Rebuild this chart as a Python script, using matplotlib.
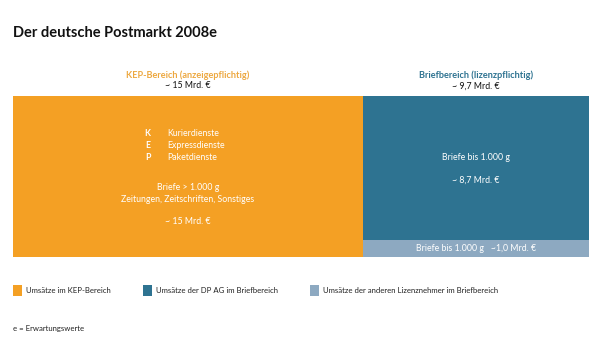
import matplotlib
matplotlib.use("Agg")
import matplotlib.pyplot as plt

plt.rcParams['font.family'] = ['Lato', 'DejaVu Sans']

# Umsätze in Mrd. Euro (2008e)
kep_umsatz = 15.0
brief_dpag = 8.7
brief_andere = 1.0
brief_gesamt = 9.7

c_kep = "#F4A024"
c_dpag = "#2E7391"
c_andere = "#8DA9C1"

W, H = 600, 363
fig = plt.figure(figsize=(6, 3.63), dpi=100, facecolor='white')

def fx(px):
    return px / W

def fy(py):
    return 1 - py / H

# Blockbereich
ax = fig.add_axes([fx(13), fy(257), fx(589) - fx(13), fy(96) - fy(257)])
total = kep_umsatz + brief_gesamt
ax.set_xlim(0, total)
ax.set_ylim(0, 1)
ax.axis('off')

ax.bar(0, 1, width=kep_umsatz, align='edge', color=c_kep, linewidth=0)
ax.bar(kep_umsatz, brief_andere / brief_gesamt, width=brief_gesamt, align='edge',
       color=c_andere, linewidth=0)
ax.bar(kep_umsatz, brief_dpag / brief_gesamt, width=brief_gesamt, align='edge',
       bottom=brief_andere / brief_gesamt, color=c_dpag, linewidth=0)

kep_mid = kep_umsatz / 2
brief_mid = kep_umsatz + brief_gesamt / 2

fig.text(fx(13), fy(33), "Der deutsche Postmarkt 2008e", fontsize=10.5,
         fontweight='bold', va='center', ha='left', color='#111111')

# Kopfzeilen ueber den Bloecken
def top_label(xd, title, color, value):
    xf = ax.transData.transform((xd, 0))[0] / fig.bbox.width
    fig.text(xf, fy(75), title, color=color, fontsize=6.6, fontweight='bold',
             ha='center', va='center')
    fig.text(xf, fy(86), value, color='#111111', fontsize=6.3, ha='center', va='center')

top_label(kep_mid, "KEP-Bereich (anzeigepflichtig)", "#EDA840", "~ 15 Mrd. €")
top_label(brief_mid, "Briefbereich (lizenzpflichtig)", c_dpag, "~ 9,7 Mrd. €")

def yd(py):
    return (257 - py) / (257 - 96)

fs = 6.3
# KEP-Block
for letter, label, py in [("K", "Kurierdienste", 133), ("E", "Expressdienste", 145),
                          ("P", "Paketdienste", 157)]:
    ax.text(kep_umsatz * (146 - 13) / 346, yd(py), letter, color='white', fontsize=fs,
            fontweight='bold', ha='center', va='center')
    ax.text(kep_umsatz * (166 - 13) / 346, yd(py), label, color='white', fontsize=fs,
            ha='left', va='center')
ax.text(kep_mid, yd(187), "Briefe > 1.000 g", color='white', fontsize=fs,
        ha='center', va='center')
ax.text(kep_mid, yd(199), "Zeitungen, Zeitschriften, Sonstiges", color='white',
        fontsize=fs, ha='center', va='center')
ax.text(kep_mid, yd(222), "~ 15 Mrd. €", color='white', fontsize=fs,
        ha='center', va='center')

# Briefblock
ax.text(brief_mid, yd(157), "Briefe bis 1.000 g", color='white', fontsize=fs,
        ha='center', va='center')
ax.text(brief_mid, yd(180), "~ 8,7 Mrd. €", color='white', fontsize=fs,
        ha='center', va='center')
ax.text(brief_mid, brief_andere / brief_gesamt / 2, "Briefe bis 1.000 g   ~1,0 Mrd. €",
        color='white', fontsize=fs, ha='center', va='center')

# Legende
legend = [(13, c_kep, "Umsätze im KEP-Bereich"),
          (143, c_dpag, "Umsätze der DP AG im Briefbereich"),
          (310, c_andere, "Umsätze der anderen Lizenznehmer im Briefbereich")]
for px, col, lab in legend:
    fig.patches.append(plt.Rectangle((fx(px), fy(296)), fx(9), 11 / H,
                                     transform=fig.transFigure, color=col, lw=0))
    fig.text(fx(px + 13), fy(290.5), lab, fontsize=5.6, ha='left', va='center',
             color='#222222')

fig.text(fx(13), fy(329), "e = Erwartungswerte", fontsize=5.6, ha='left',
         va='center', color='#222222')

fig.savefig("out.png", dpi=100, facecolor='white')
